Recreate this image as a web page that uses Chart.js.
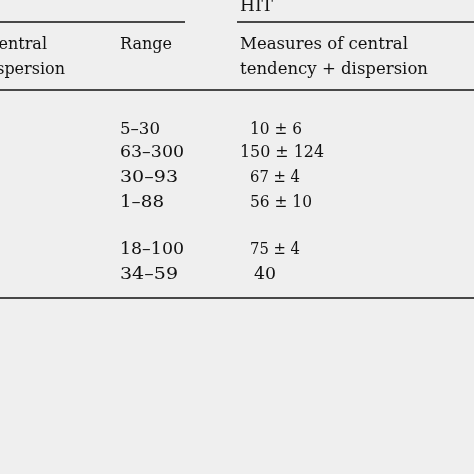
<!DOCTYPE html><html><head><script src="https://cdn.jsdelivr.net/npm/chart.js@4"></script>
<style>html,body{margin:0;padding:0;background:#efefef}#w{width:474px;height:474px}</style></head><body><div id="w"><canvas id="c"></canvas></div>
<script>
const ranges=["5–30","63–300","30–93","1–88","18–100","34–59"];
const measures=["10 ± 6","150 ± 124","67 ± 4","56 ± 10","75 ± 4","40"];
const rowY=[130,153,178,203,250,275];
const F='16px "DejaVu Serif", serif';
const tablePlugin={id:'tbl',afterDraw(ch){const c=ch.ctx;c.save();
c.fillStyle='#efefef';c.fillRect(0,0,474,474);
c.strokeStyle='#111';c.lineWidth=1.3;
const ln=(x1,x2,y)=>{c.beginPath();c.moveTo(x1,y);c.lineTo(x2,y);c.stroke();};
ln(0,185,22);ln(237,474,22);ln(0,474,90);c.lineWidth=1.5;ln(0,474,298);
c.fillStyle='#111';c.font=F;c.textBaseline='middle';
const fit=(t,x,y,w)=>{const m=c.measureText(t).width;c.save();c.translate(x,y);c.scale(w/m,1);c.fillText(t,0,0);c.restore();};
fit('HIT',240,7,33);
c.textAlign='right';c.fillText('entral',47,45);c.fillText('ispersion',65,70);c.textAlign='left';
fit('Range',120,45,52);
fit('Measures of central',240,45,168);fit('tendency + dispersion',240,70,188);
const rw=[40,64,58,44,64,58];
ranges.forEach((r,i)=>fit(r,120,rowY[i],rw[i]));
const mx=[250,240,250,250,250,254],mw=[52,84,50,62,50,22];
measures.forEach((m,i)=>fit(m,mx[i],rowY[i],mw[i]));
c.restore();}};
new Chart(document.getElementById('c'),{type:'scatter',data:{datasets:[{data:[]}]},
options:{responsive:true,maintainAspectRatio:false,animation:false,plugins:{legend:{display:false},tooltip:{enabled:false}},
scales:{x:{display:false},y:{display:false}}},plugins:[tablePlugin]});
</script></body></html>
